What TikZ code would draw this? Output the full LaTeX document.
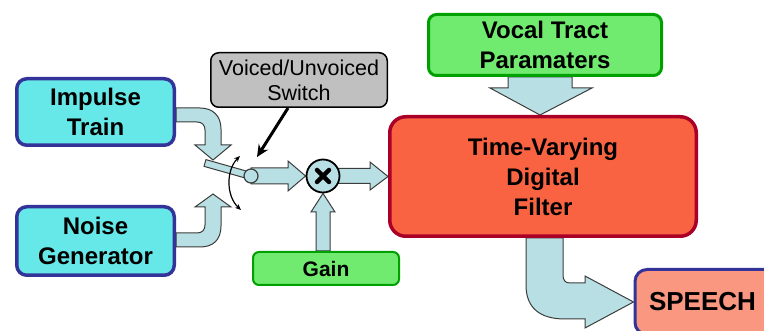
\documentclass[tikz,border=0pt]{standalone}
\usepackage{fontspec}
\setmainfont{Liberation Sans}
\usetikzlibrary{calc,arrows.meta,backgrounds}
\definecolor{cyanbox}{HTML}{66E8E8}
\definecolor{bluebord}{HTML}{333399}
\definecolor{greenbox}{HTML}{70EB70}
\definecolor{greenbord}{HTML}{00A000}
\definecolor{redbox}{HTML}{FA6342}
\definecolor{redbord}{HTML}{AA0028}
\definecolor{speechbox}{HTML}{F99781}
\definecolor{graybox}{HTML}{C0C0C0}
\definecolor{arrowfill}{HTML}{B8E0E4}
\definecolor{arrowedge}{HTML}{3C3C3C}
\begin{document}
\begin{tikzpicture}[x=1pt,y=-1pt,
    every node/.style={align=center,inner sep=0pt},
    bigfont/.style={font=\fontsize{24}{30}\selectfont\bfseries},
    source/.style={bigfont,draw=bluebord,fill=cyanbox,line width=3.5pt,rounded corners=10pt,minimum width=157.5pt},
    param/.style={draw=greenbord,fill=greenbox,rounded corners=8pt},
    fatarrow/.style={fill=arrowfill,draw=arrowedge,line width=1pt}]
  \useasboundingbox (0,0) rectangle (764,331);
  \clip (0,0) rectangle (764,331);
  \node[source,minimum height=66.5pt] (imp) at (95.5,112) {Impulse\\Train};
  \node[source,minimum height=68.5pt] (noise) at (95.5,241) {Noise\\Generator};
  \node[draw=black,fill=graybox,line width=1.5pt,rounded corners=8pt,minimum width=176.5pt,minimum height=54.5pt,
        font=\fontsize{21.5}{25}\selectfont] (vus) at (299,80) {Voiced/Unvoiced\\Switch};
  \node[param,bigfont,line width=3pt,minimum width=233pt,minimum height=61pt] (vtp) at (545,45) {Vocal Tract\\Paramaters};
  \node[bigfont,draw=redbord,fill=redbox,line width=3.5pt,rounded corners=16pt,minimum width=306.5pt,minimum height=119.5pt]
        (filter) at (543,176.5) {Time-Varying\\Digital\\Filter};
  \node[param,line width=2pt,rounded corners=6pt,minimum width=146pt,minimum height=33pt,
        font=\fontsize{21}{25}\selectfont\bfseries] (gain) at (326,268.5) {Gain};
  \node[draw=bluebord,fill=speechbox,line width=3pt,rounded corners=12pt,anchor=west,align=left,text width=150pt,
        inner xsep=14pt,minimum height=65pt,font=\fontsize{26}{30}\selectfont\bfseries] (speech) at (633.5,302) {SPEECH};
  \node[circle,draw=black,fill=arrowfill,line width=1.8pt,minimum size=33pt] (mult) at (323,176) {};
  \node[circle,fatarrow,line width=1.2pt,minimum size=14pt] (pivot) at (251,176) {};
  \coordinate (swtop) at (213,160);
  \coordinate (swbot) at (213,194);
  \coordinate (swpt) at (257,157);
  \coordinate (arcT) at (240,156);
  \coordinate (arcB) at (241,210);
  \begin{scope}[on background layer]
    \draw[fatarrow] ($(imp.east)+(0,-4)$) -- (200,108) .. controls (213,108) and (221,116) .. (221,129)
      -- (221,145) -- (231,145) -- (swtop) -- (195,145) -- (205,145) -- (205,130)
      .. controls (205,125) and (202,122) .. (197,122) -- ($(imp.east)+(0,10)$) -- cycle;
    \draw[fatarrow] ($(noise.east)+(0,-8)$) -- (197,233) .. controls (202,233) and (205,230) .. (205,225)
      -- (205,207) -- (195,207) -- (swbot) -- (231,207) -- (221,207) -- (221,226)
      .. controls (221,240) and (213,247) .. (200,247) -- ($(noise.east)+(0,6)$) -- cycle;
    \draw[fatarrow] ($(pivot)+(0,-8)$) -- (288,168) -- (288,161) -- (mult.west) -- (288,191) -- (288,184)
      -- ($(pivot)+(0,8)$) -- cycle;
    \draw[fatarrow] ($(mult)+(0,-7.5)$) -- (370,168.5) -- (370,162) -- (filter.west) -- (370,190) -- (370,183.5)
      -- ($(mult)+(0,7.5)$) -- cycle;
    \draw[fatarrow] ($(gain.north)+(-10,0)$) -- (316,212) -- (311,212) -- (mult.south) -- (335,212) -- (330,212)
      -- ($(gain.north)+(4,0)$) -- cycle;
    \draw[fatarrow] ($(vtp.south)+(-37,0)$) -- (508,88) -- (490,88) -- ($(filter.north)+(-3,0)$) -- (592,88)
      -- (572,88) -- ($(vtp.south)+(27,0)$) -- cycle;
    \draw[fatarrow] ($(filter.south)+(-17,0)$) -- (526,285) .. controls (526,308) and (540,319) .. (565,319)
      -- (585,319) -- (585,328) -- (speech.west) -- (585,276) -- (585,283) -- (570,283)
      .. controls (565,283) and (563,280) .. (563,275) -- ($(filter.south)+(20,0)$) -- cycle;
    \draw[fatarrow] (204.05,166.37) -- (250.05,179.37) -- (251.95,172.63) -- (205.95,159.63) -- cycle;
  \end{scope}
  \draw[line width=4.5pt,line cap=round] ($(mult)+(-6,-6)$) -- ($(mult)+(6,6)$);
  \draw[line width=4.5pt,line cap=round] ($(mult)+(-6,6)$) -- ($(mult)+(6,-6)$);
  \draw[line width=3pt,-{Stealth[length=12pt,width=11pt]}] ($(vus.south)+(-11,0)$) -- (swpt);
  \draw[line width=1.2pt,{Stealth[length=6pt,width=5pt]}-{Stealth[length=6pt,width=5pt]}]
    (arcT) .. controls (226,170) and (226,196) .. (arcB);
\end{tikzpicture}
\end{document}
